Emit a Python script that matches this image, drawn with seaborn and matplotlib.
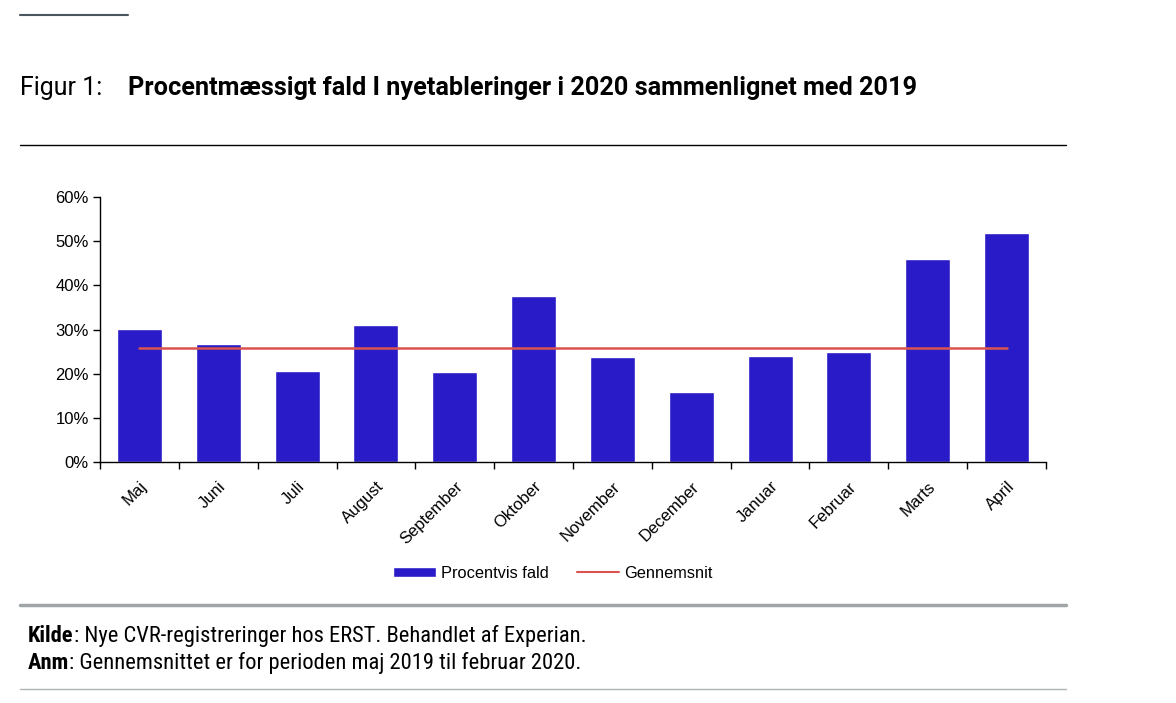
import numpy as np
import pandas as pd
import matplotlib
matplotlib.use("Agg")
import matplotlib.pyplot as plt
from matplotlib.lines import Line2D
from matplotlib.patches import Patch
from matplotlib.ticker import PercentFormatter
import seaborn as sns

# data
months = ["Maj", "Juni", "Juli", "August", "September", "Oktober",
          "November", "December", "Januar", "Februar", "Marts", "April"]
fald = [30.1, 26.7, 20.6, 31.0, 20.4, 37.6, 23.8, 15.8, 24.0, 24.9, 46.0, 51.8]
gennemsnit = 25.8

bar_color = "#2a1bc8"
line_color = "#d9534f"

sns.set_theme(style="white")
plt.rcParams["font.family"] = ["Liberation Sans", "DejaVu Sans"]
plt.rcParams["text.color"] = "black"
plt.rcParams["xtick.color"] = "black"
plt.rcParams["ytick.color"] = "black"

df = pd.DataFrame({"maaned": months, "fald": fald})

fig = plt.figure(figsize=(11.76, 7.03), dpi=100)
ax = fig.add_axes([100 / 1176, 1 - 462 / 703, 946 / 1176, 265 / 703])

sns.barplot(data=df, x="maaned", y="fald", color=bar_color, saturation=1,
            width=0.57, ax=ax)
ax.plot(months, [gennemsnit] * len(months), color=line_color, lw=1.8)

ax.set_ylim(0, 60)
ax.set_xlim(-0.5, len(months) - 0.5)
ax.set_yticks(np.arange(0, 61, 10))
ax.yaxis.set_major_formatter(PercentFormatter(decimals=0))
ax.set_xlabel("")
ax.set_ylabel("")

# ticks between categories
ax.set_xticks(np.arange(-0.5, len(months), 1), minor=False)
ax.set_xticklabels([])
ax.set_xticks(np.arange(len(months)), minor=True)
ax.set_xticklabels(months, minor=True, rotation=45, ha="right",
                   rotation_mode="anchor", fontsize=12)
ax.tick_params(axis="x", which="major", direction="out", length=5,
               width=1, color="black", bottom=True)
ax.tick_params(axis="x", which="minor", length=0, pad=12)
ax.tick_params(axis="y", direction="out", length=5, width=1, color="black",
               left=True, labelsize=12, pad=3)

for side in ["top", "right"]:
    ax.spines[side].set_visible(False)
for side in ["left", "bottom"]:
    ax.spines[side].set_color("black")
    ax.spines[side].set_linewidth(1)

handles = [Patch(facecolor=bar_color, label="Procentvis fald"),
           Line2D([0], [0], color=line_color, lw=1.5, label="Gennemsnit")]
fig.legend(handles=handles, loc="center", bbox_to_anchor=(553 / 1176, 1 - 573 / 703),
           ncol=2, frameon=False, fontsize=11.8, handlelength=2.6,
           handleheight=0.6, columnspacing=1.7, handletextpad=0.3)

# title and decorative rules
fig.add_artist(Line2D([20 / 1176, 128 / 1176], [1 - 15 / 703] * 2,
                      color="#4a5560", lw=1.5))
fig.text(20 / 1176, 1 - 88 / 703, "Figur 1:", fontsize=18, va="center",
         family=["Roboto", "DejaVu Sans"])
fig.text(128 / 1176, 1 - 88 / 703,
         "Procentmæssigt fald I nyetableringer i 2020 sammenlignet med 2019",
         fontsize=18.2, fontweight="bold", va="center",
         family=["Roboto", "DejaVu Sans"])
fig.add_artist(Line2D([20 / 1176, 1066 / 1176], [1 - 145 / 703] * 2,
                      color="black", lw=1))
fig.add_artist(Line2D([20 / 1176, 1066 / 1176], [1 - 605 / 703] * 2,
                      color="#a0a5a8", lw=2.5))
fig.add_artist(Line2D([20 / 1176, 1066 / 1176], [1 - 689 / 703] * 2,
                      color="#b0b3b5", lw=1))

foot = ["Roboto Condensed", "Liberation Sans Narrow", "DejaVu Sans"]
renderer = fig.canvas.get_renderer()
for y, bold, rest in [(636, "Kilde", ": Nye CVR-registreringer hos ERST. Behandlet af Experian."),
                      (663, "Anm", ": Gennemsnittet er for perioden maj 2019 til februar 2020.")]:
    t = fig.text(28 / 1176, 1 - y / 703, bold, fontsize=16.2, fontweight="bold",
                 va="center", family=foot)
    bb = t.get_window_extent(renderer)
    fig.text(bb.x1 / 1176, 1 - y / 703, rest, fontsize=16.2, va="center", family=foot)

fig.savefig("out.png", dpi=100)
